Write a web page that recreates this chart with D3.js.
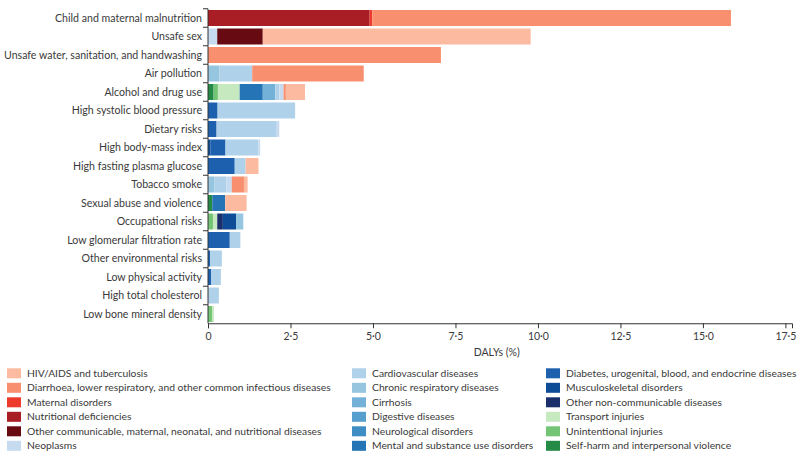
<!DOCTYPE html>
<html>
<head>
<meta charset="utf-8">
<script src="https://cdn.jsdelivr.net/npm/d3@7"></script>
<style>
  html, body { margin: 0; padding: 0; background: #fff; }
  svg { display: block; }
  text { font-family: Lato, "Open Sans", sans-serif; fill: #3a3a3a; }
</style>
</head>
<body>
<svg id="chart" width="800" height="456"></svg>
<script>
// ---- Data ----
const risks = [
  "Child and maternal malnutrition",
  "Unsafe sex",
  "Unsafe water, sanitation, and handwashing",
  "Air pollution",
  "Alcohol and drug use",
  "High systolic blood pressure",
  "Dietary risks",
  "High body-mass index",
  "High fasting plasma glucose",
  "Tobacco smoke",
  "Sexual abuse and violence",
  "Occupational risks",
  "Low glomerular filtration rate",
  "Other environmental risks",
  "Low physical activity",
  "High total cholesterol",
  "Low bone mineral density"
];

const causes = [
  "HIV/AIDS and tuberculosis",
  "Diarrhoea, lower respiratory, and other common infectious diseases",
  "Maternal disorders",
  "Nutritional deficiencies",
  "Other communicable, maternal, neonatal, and nutritional diseases",
  "Neoplasms",
  "Cardiovascular diseases",
  "Chronic respiratory diseases",
  "Cirrhosis",
  "Digestive diseases",
  "Neurological disorders",
  "Mental and substance use disorders",
  "Diabetes, urogenital, blood, and endocrine diseases",
  "Musculoskeletal disorders",
  "Other non-communicable diseases",
  "Transport injuries",
  "Unintentional injuries",
  "Self-harm and interpersonal violence"
];

const causeColors = [
  "#fcbba1", "#f8906f", "#ee3a2c", "#a91d24", "#680a12",
  "#c6dbef", "#b0d1ea", "#96c5e0", "#74b1d8", "#579fcf",
  "#3f8dc5", "#2474b6", "#1c60ae", "#0f4c98", "#1b306a",
  "#c7e9c0", "#74c476", "#238b45"
];

// DALYs (%) per cause, one value per risk (same order as risks)
const hivTb          = [0, 8.12, 0, 0, 0.58, 0, 0, 0, 0.39, 0.11, 0.65, 0, 0, 0, 0, 0, 0];
const diarrhoeaLri   = [10.87, 0, 7.06, 3.38, 0.07, 0, 0, 0, 0, 0.37, 0, 0, 0, 0, 0, 0, 0];
const maternal       = [0.08, 0, 0, 0, 0, 0, 0, 0, 0, 0, 0, 0, 0, 0, 0, 0, 0];
const nutritional    = [4.90, 0, 0, 0, 0, 0, 0, 0, 0, 0, 0, 0, 0, 0, 0, 0, 0];
const otherComm      = [0, 1.38, 0, 0, 0, 0, 0, 0, 0, 0, 0, 0, 0, 0, 0, 0, 0];
const neoplasms      = [0, 0.28, 0, 0, 0.13, 0, 0.10, 0.05, 0, 0.17, 0, 0, 0, 0, 0, 0, 0];
const cardiovascular = [0, 0, 0, 0.99, 0.12, 2.35, 1.80, 1.00, 0.33, 0.35, 0, 0, 0.32, 0.35, 0.29, 0.33, 0];
const chronicResp    = [0, 0, 0, 0.35, 0, 0, 0, 0, 0, 0.20, 0, 0.22, 0, 0, 0, 0, 0];
const cirrhosis      = [0, 0, 0, 0, 0.38, 0, 0, 0, 0, 0, 0, 0, 0, 0, 0, 0, 0];
const digestive      = [0, 0, 0, 0, 0, 0, 0, 0, 0, 0, 0, 0, 0, 0, 0, 0, 0];
const neurological   = [0, 0, 0, 0, 0, 0, 0, 0, 0, 0, 0, 0, 0, 0, 0, 0, 0];
const mental         = [0, 0, 0, 0, 0.70, 0, 0, 0, 0, 0, 0.39, 0, 0, 0, 0, 0, 0];
const diabetes       = [0, 0, 0, 0, 0, 0.29, 0.26, 0.45, 0.81, 0, 0, 0, 0.66, 0.07, 0.10, 0, 0];
const musculo        = [0, 0, 0, 0, 0, 0, 0, 0.08, 0, 0, 0, 0.40, 0, 0, 0, 0, 0];
const otherNcd       = [0, 0, 0, 0, 0, 0, 0, 0, 0, 0, 0, 0.17, 0, 0, 0, 0, 0];
const transport      = [0, 0, 0, 0, 0.66, 0, 0, 0, 0, 0, 0, 0.13, 0, 0, 0, 0, 0.06];
const unintentional  = [0, 0, 0, 0, 0.13, 0, 0, 0, 0, 0, 0, 0.15, 0, 0, 0, 0, 0.12];
const selfHarm       = [0, 0, 0, 0, 0.17, 0, 0, 0, 0, 0, 0.13, 0, 0, 0, 0, 0, 0];

const seriesValues = [
  hivTb, diarrhoeaLri, maternal, nutritional, otherComm, neoplasms,
  cardiovascular, chronicResp, cirrhosis, digestive, neurological, mental,
  diabetes, musculo, otherNcd, transport, unintentional, selfHarm
];

const xTicks = [0, 2.5, 5, 7.5, 10, 12.5, 15, 17.5];
const xTitle = "DALYs (%)";

// ---- Build table ----
const table = risks.map((r, i) => {
  const row = { risk: r };
  causes.forEach((c, j) => { row[c] = seriesValues[j][i]; });
  return row;
});

// ---- Chart ----
const svg = d3.select("#chart");
const plotLeft = 208, plotRight = 792, plotTop = 8.75, rowStep = 18.5;
const plotBottom = plotTop + rowStep * risks.length;

const x = d3.scaleLinear().domain([0, 17.7]).range([plotLeft, plotRight]);
const y = d3.scaleBand().domain(risks).range([plotTop, plotBottom])
  .paddingInner(0.135).paddingOuter(0.0675);
const color = d3.scaleOrdinal().domain(causes).range(causeColors);

// stack: leftmost is last legend entry
const stackKeys = causes.slice().reverse();
const stacked = d3.stack().keys(stackKeys)(table);

svg.append("g").selectAll("g")
  .data(stacked)
  .join("g")
  .attr("fill", d => color(d.key))
  .selectAll("rect")
  .data(d => d.filter(p => p[1] - p[0] > 0))
  .join("rect")
  .attr("x", d => x(d[0]))
  .attr("width", d => x(d[1]) - x(d[0]))
  .attr("y", d => y(d.data.risk))
  .attr("height", y.bandwidth());

// y axis line + ticks at band boundaries
const axisColor = "#333";
const yAxisG = svg.append("g");
yAxisG.append("line")
  .attr("x1", x(0)).attr("x2", x(0))
  .attr("y1", plotTop).attr("y2", plotBottom)
  .attr("stroke", axisColor).attr("stroke-width", 1);
const gapHalf = (y.step() - y.bandwidth()) / 2;
yAxisG.selectAll("line.tk")
  .data(risks)
  .join("line")
  .attr("class", "tk")
  .attr("x1", x(0) - 5).attr("x2", x(0))
  .attr("y1", d => y(d) - gapHalf).attr("y2", d => y(d) - gapHalf)
  .attr("stroke", axisColor);
yAxisG.selectAll("text")
  .data(risks)
  .join("text")
  .attr("x", x(0) - 6)
  .attr("y", d => y(d) + y.bandwidth() / 2)
  .attr("dy", "0.35em")
  .attr("text-anchor", "end")
  .attr("font-size", "10.6px")
  .text(d => d);

// x axis
const fmt = v => v === 0 ? "0" : d3.format(".1f")(v).replace(".", "·");
const xAxis = d3.axisBottom(x).tickValues(xTicks).tickFormat(fmt)
  .tickSizeOuter(0).tickSize(5).tickPadding(4);
const xg = svg.append("g")
  .attr("transform", `translate(0,${plotBottom})`)
  .call(xAxis);
xg.select(".domain").attr("stroke", axisColor);
xg.selectAll(".tick line").attr("stroke", axisColor);
xg.selectAll(".tick text")
  .attr("font-family", "Lato, 'Open Sans', sans-serif")
  .attr("font-size", "10.5px").attr("fill", "#3a3a3a");

svg.append("text")
  .attr("x", (x(0) + x(17.5)) / 2)
  .attr("y", plotBottom + 33)
  .attr("text-anchor", "middle")
  .attr("font-size", "10.5px")
  .text(xTitle);

// legend
const colX = [7, 352, 546];
const legTop = 373.3, legStep = 14.5;
const leg = svg.append("g");
const items = leg.selectAll("g")
  .data(causes)
  .join("g")
  .attr("transform", (d, i) => `translate(${colX[Math.floor(i / 6)]},${legTop + (i % 6) * legStep})`);
items.append("rect")
  .attr("x", 0).attr("y", -5).attr("width", 14).attr("height", 10)
  .attr("fill", d => color(d));
items.append("text")
  .attr("x", 20).attr("y", 0).attr("dy", "0.35em")
  .attr("font-size", "10.3px")
  .text(d => d);
</script>
</body>
</html>
